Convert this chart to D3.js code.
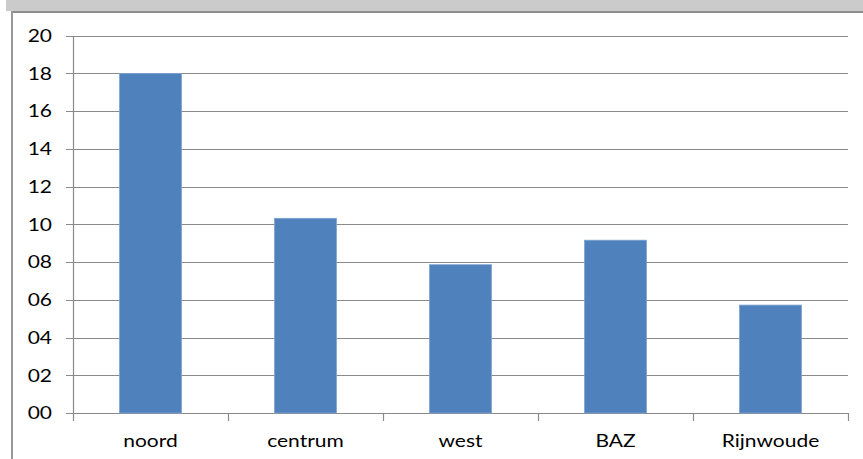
<!DOCTYPE html>
<html>
<head>
<meta charset="utf-8">
<script src="https://cdn.jsdelivr.net/npm/d3@7"></script>
<style>
  html, body { margin: 0; padding: 0; background: #ffffff; }
  svg { display: block; }
  text { font-family: Lato, "Open Sans", sans-serif; fill: #000; }
</style>
</head>
<body>
<script>
// Wijken en aantallen
const categories = ["noord", "centrum", "west", "BAZ", "Rijnwoude"];
const values = [18.0, 10.32, 7.86, 9.16, 5.72];
const yTicks = [0, 2, 4, 6, 8, 10, 12, 14, 16, 18, 20];

const W = 863, H = 459;
const plot = { left: 73, right: 848, top: 35.7, bottom: 413 };
const FONT = 17.5, STRETCH = 1.2;

const svg = d3.select("body").append("svg")
  .attr("width", W).attr("height", H);

// grey band and frame along the top and left
svg.append("rect").attr("x", 6).attr("y", 0).attr("width", W - 6).attr("height", 11)
  .attr("fill", "#cbcbcb");
svg.append("line").attr("x1", 11).attr("x2", W).attr("y1", 12).attr("y2", 12)
  .attr("stroke", "#8c8c8c").attr("stroke-width", 2);
svg.append("line").attr("x1", 12).attr("x2", 12).attr("y1", 11).attr("y2", H)
  .attr("stroke", "#999999").attr("stroke-width", 2);

const x = d3.scaleBand().domain(categories)
  .range([plot.left, plot.right]).paddingInner(0.6).paddingOuter(0.3);
const xBand = d3.scaleBand().domain(categories).range([plot.left, plot.right]);
const y = d3.scaleLinear().domain([0, 20]).range([plot.bottom, plot.top]);

// horizontal gridlines
svg.append("g").selectAll("line").data(yTicks).join("line")
  .attr("x1", plot.left - 7).attr("x2", plot.right)
  .attr("y1", d => Math.round(y(d)) + 0.5).attr("y2", d => Math.round(y(d)) + 0.5)
  .attr("stroke", "#8a8a8a").attr("stroke-width", 1.2);

// y axis line (labels drawn below, slightly widened)
const yAxis = d3.axisLeft(y).tickValues(yTicks).tickFormat("").tickSize(0);
const gy = svg.append("g").attr("transform", `translate(${plot.left},0)`).call(yAxis);
gy.select(".domain").attr("stroke", "#8a8a8a").attr("stroke-width", 1.2);

const fmt = d3.format("02d");
svg.append("g").selectAll("text").data(yTicks).join("text")
  .attr("transform", d => `translate(${plot.left - 21},${y(d)}) scale(${STRETCH},1)`)
  .attr("dy", "0.36em")
  .attr("text-anchor", "end")
  .attr("font-size", FONT)
  .text(d => fmt(d));

// x axis with tick marks at category boundaries
const bounds = categories.map(c => xBand(c)).concat([plot.right]);
svg.append("g").selectAll("line").data(bounds).join("line")
  .attr("x1", d => Math.round(d) + 0.5).attr("x2", d => Math.round(d) + 0.5)
  .attr("y1", plot.bottom).attr("y2", plot.bottom + 8)
  .attr("stroke", "#8a8a8a").attr("stroke-width", 1.2);

svg.append("g").selectAll("text").data(categories).join("text")
  .attr("transform", d => `translate(${xBand(d) + xBand.bandwidth() / 2},447) scale(${STRETCH},1)`)
  .attr("text-anchor", "middle")
  .attr("font-size", FONT)
  .text(d => d);

// bars
svg.append("g").selectAll("rect").data(categories).join("rect")
  .attr("x", d => x(d))
  .attr("width", x.bandwidth())
  .attr("y", (d, i) => y(values[i]))
  .attr("height", (d, i) => y(0) - y(values[i]))
  .attr("fill", "#4f81bd")
  .attr("stroke", "#7fa3d2")
  .attr("stroke-width", 0.8);
</script>
</body>
</html>
